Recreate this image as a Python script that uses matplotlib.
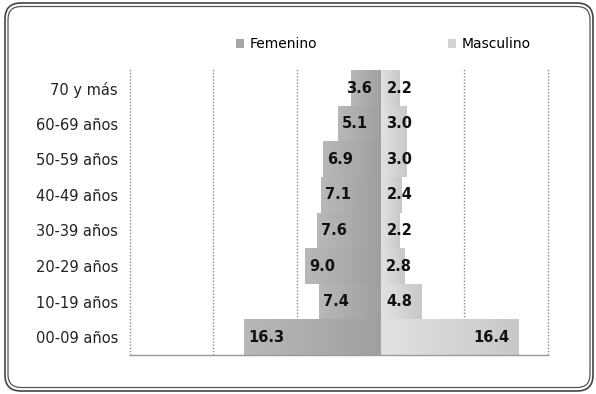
import numpy as np
import matplotlib.pyplot as plt
from matplotlib.patches import FancyBboxPatch, Patch
from matplotlib.colors import LinearSegmentedColormap

grupos = ["00-09 años", "10-19 años", "20-29 años", "30-39 años",
          "40-49 años", "50-59 años", "60-69 años", "70 y más"]
femenino = [16.3, 7.4, 9.0, 7.6, 7.1, 6.9, 5.1, 3.6]
masculino = [16.4, 4.8, 2.8, 2.2, 2.4, 3.0, 3.0, 2.2]

fig = plt.figure(figsize=(5.96, 3.94), dpi=100)
ax = fig.add_axes([0.218, 0.099, 0.701, 0.728])

y = np.arange(len(grupos))
fem_cmap = LinearSegmentedColormap.from_list("fem", ["#b8b8b8", "#a0a0a0"])
mas_cmap = LinearSegmentedColormap.from_list("mas", ["#e2e2e2", "#c8c8c8"])


def gradient_bars(bars, cmap):
    # fill each bar with a horizontal gradient, clipped to the bar itself
    grad = np.linspace(0, 1, 64).reshape(1, -1)
    for b in bars:
        x0, y0 = b.get_x(), b.get_y()
        w, h = b.get_width(), b.get_height()
        im = ax.imshow(grad, cmap=cmap, aspect="auto", zorder=2,
                       extent=[min(x0, x0 + w), max(x0, x0 + w), y0, y0 + h],
                       interpolation="bicubic")
        im.set_clip_path(b)
        b.set_facecolor("none")


bars_f = ax.barh(y, [-v for v in femenino], height=1.0, color="#aaaaaa", zorder=2, linewidth=0)
bars_m = ax.barh(y, masculino, height=1.0, color="#d6d6d6", zorder=2, linewidth=0)
gradient_bars(bars_f, fem_cmap)
gradient_bars(bars_m, mas_cmap)

for yi, v in zip(y, femenino):
    ax.text(-max(v, 4.6) + 0.5, yi, f"{v:.1f}", ha="left", va="center",
            fontsize=10.5, fontweight="bold", color="#111111", zorder=4)
for yi, v in zip(y, masculino):
    ax.text(max(v, 4.8) - 1.0, yi, f"{v:.1f}", ha="right", va="center",
            fontsize=10.5, fontweight="bold", color="#111111", zorder=4)

ax.set_xlim(-30, 20)
ax.set_ylim(-0.5, 7.56)
ax.set_yticks(y)
ax.set_yticklabels(grupos, fontsize=10.5, color="#222222")
ax.set_xticks([])
ax.tick_params(axis="y", length=0, pad=8.5)

for gx in [-30, -20, -10, 0, 10, 20]:
    ax.axvline(gx, color="#8a8a8a", linestyle=(0, (1, 1.3)), linewidth=1.0,
               zorder=1, clip_on=False)

for s in ["top", "right", "left"]:
    ax.spines[s].set_visible(False)
ax.spines["bottom"].set_color("#9a9a9a")
ax.spines["bottom"].set_linewidth(1.0)
ax.spines["bottom"].set_zorder(3)

handles = [Patch(facecolor="#a6a6a6", edgecolor="none", label="Femenino"),
           Patch(facecolor="#d2d2d2", edgecolor="none", label="Masculino")]
fig.legend(handles=handles, loc="center left", bbox_to_anchor=(0.396, 0.888),
           ncol=2, frameon=False, fontsize=10, handlelength=0.6, handleheight=0.6,
           handletextpad=0.4, columnspacing=9.4, borderpad=0, borderaxespad=0)

# double rounded frame around the figure
outer = FancyBboxPatch((0.05, 0.03), 5.88, 3.88, boxstyle="round,pad=0,rounding_size=0.16",
                       transform=fig.dpi_scale_trans, fill=False, edgecolor="#444444", linewidth=1.2)
inner = FancyBboxPatch((0.08, 0.065), 5.82, 3.81, boxstyle="round,pad=0,rounding_size=0.13",
                       transform=fig.dpi_scale_trans, fill=False, edgecolor="#555555", linewidth=0.9)
fig.patches.extend([outer, inner])

fig.savefig("out.png", dpi=100)
